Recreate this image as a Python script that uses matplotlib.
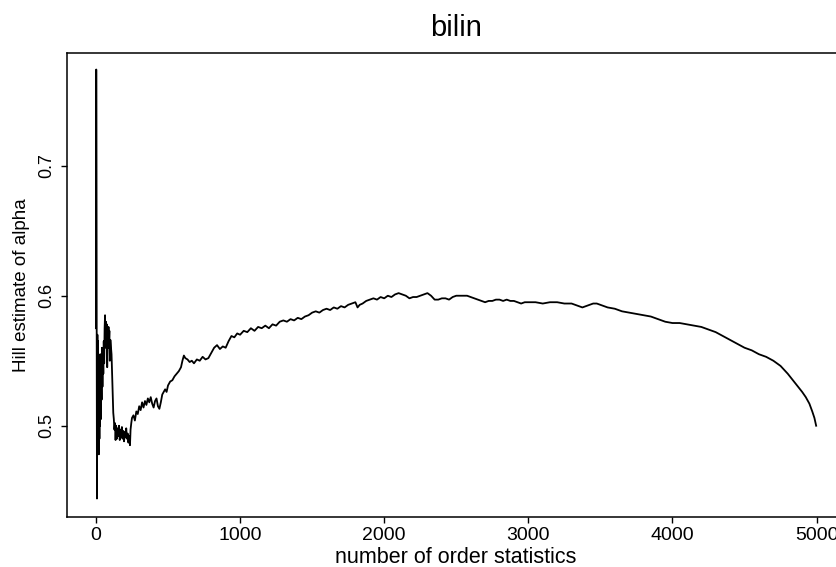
import matplotlib.pyplot as plt
import numpy as np

plt.rcParams['font.family'] = ['Liberation Sans', 'DejaVu Sans']

# number of order statistics k and Hill estimate of alpha
k = [1, 2, 3, 4, 5, 6, 7, 8, 9, 10, 12, 14, 16, 18, 20, 22, 24, 26, 28, 30,
     33, 36, 39, 42, 45, 48, 51, 54, 57, 60, 63, 66, 69, 72, 75, 78, 81, 84,
     87, 90, 93, 96, 100, 104, 108, 112, 116, 120, 124, 128, 132, 136, 140,
     145, 150, 155, 160, 165, 170, 175, 180, 185, 190, 195, 200, 205, 210,
     215, 220, 225, 230, 236, 240, 245,
     250, 260, 270, 280, 290, 300, 310, 320, 330, 340, 350, 360, 370, 380,
     390, 400, 410, 420, 430, 440, 450, 460, 470, 480, 490, 500, 515, 530,
     545, 560, 575, 590, 600, 610, 620, 635, 650, 665, 680, 700, 720, 740,
     760, 780, 800, 820, 840, 860, 880, 900, 920, 940, 960, 980, 1000,
     1025, 1050, 1075, 1100, 1125, 1150, 1175, 1200, 1225, 1250, 1275, 1300,
     1325, 1350, 1375, 1400, 1425, 1450, 1475, 1500, 1525, 1550, 1575, 1600,
     1625, 1650, 1675, 1700, 1725, 1750, 1775, 1800, 1815, 1830, 1850, 1875,
     1900, 1925, 1950, 1975, 2000, 2025, 2050, 2075, 2100, 2125, 2150, 2175,
     2200, 2225, 2250, 2275, 2300, 2325, 2350, 2375, 2400, 2425, 2450, 2475,
     2500, 2525, 2550, 2575, 2600, 2625, 2650, 2675, 2700, 2725, 2750, 2775,
     2800, 2825, 2850, 2875, 2900, 2925, 2950, 2975, 3000, 3050, 3100, 3150,
     3200, 3250, 3300, 3350, 3375, 3400, 3450, 3475, 3500, 3550, 3600, 3650,
     3700, 3750, 3800, 3850, 3900, 3950, 4000, 4050, 4100, 4150, 4200, 4250,
     4300, 4350, 4400, 4450, 4500, 4550, 4600, 4650, 4700, 4750, 4800, 4850,
     4900, 4925, 4950, 4970, 4985, 4997]

alpha = [0.575, 0.774, 0.700, 0.610, 0.575, 0.520, 0.444, 0.500, 0.560, 0.570,
         0.520, 0.565, 0.495, 0.548, 0.478, 0.530, 0.490, 0.545, 0.500, 0.555,
         0.505, 0.545, 0.520, 0.560, 0.530, 0.555, 0.540, 0.565, 0.548, 0.575,
         0.585, 0.560, 0.580, 0.565, 0.578, 0.545, 0.572, 0.560, 0.576, 0.565,
         0.573, 0.550, 0.566, 0.560, 0.555, 0.540, 0.525, 0.510, 0.505, 0.497,
         0.502, 0.489, 0.500, 0.490, 0.498, 0.492, 0.500, 0.489, 0.497, 0.491,
         0.499, 0.490, 0.496, 0.488, 0.495, 0.491, 0.498, 0.490, 0.494, 0.487,
         0.492, 0.485, 0.497, 0.502,
         0.506, 0.508, 0.504, 0.511, 0.509, 0.515, 0.512, 0.518, 0.514, 0.519,
         0.516, 0.521, 0.518, 0.522, 0.517, 0.514, 0.519, 0.521, 0.515, 0.513,
         0.518, 0.524, 0.526, 0.528, 0.526, 0.531, 0.534, 0.535, 0.538, 0.540,
         0.542, 0.545, 0.550, 0.554, 0.552, 0.551, 0.549, 0.550, 0.548, 0.551,
         0.550, 0.553, 0.551, 0.552, 0.556, 0.560, 0.562, 0.559, 0.561, 0.560,
         0.565, 0.569, 0.568, 0.571, 0.570, 0.573, 0.572, 0.575, 0.573, 0.576,
         0.575, 0.577, 0.575, 0.578, 0.577, 0.580, 0.581, 0.580, 0.582, 0.581,
         0.583, 0.582, 0.584, 0.585, 0.587, 0.588, 0.587, 0.589, 0.590, 0.589,
         0.591, 0.590, 0.592, 0.591, 0.593, 0.594, 0.595, 0.591, 0.593, 0.594,
         0.596, 0.597, 0.598, 0.597, 0.599, 0.598, 0.600, 0.599, 0.601, 0.602,
         0.601, 0.600, 0.598, 0.599, 0.599, 0.600, 0.601, 0.602, 0.600, 0.597,
         0.597, 0.598, 0.598, 0.597, 0.599, 0.600, 0.600, 0.600, 0.600, 0.599,
         0.598, 0.597, 0.596, 0.595, 0.596, 0.596, 0.597, 0.597, 0.596, 0.597,
         0.596, 0.596, 0.595, 0.594, 0.595, 0.595, 0.595, 0.594, 0.595, 0.595,
         0.594, 0.594, 0.592, 0.591, 0.592, 0.594, 0.594, 0.593, 0.591, 0.590,
         0.588, 0.587, 0.586, 0.585, 0.584, 0.582, 0.580, 0.579, 0.579, 0.578,
         0.577, 0.576, 0.574, 0.572, 0.569, 0.566, 0.563, 0.560, 0.558, 0.555,
         0.553, 0.550, 0.546, 0.540, 0.533, 0.526, 0.522, 0.517, 0.511, 0.506,
         0.500]

x_ticks = [0, 1000, 2000, 3000, 4000, 5000]
y_ticks = [0.5, 0.6, 0.7]

fig = plt.figure(figsize=(8.37, 5.67), dpi=100)
# axes run past the right edge of the figure, as in the cropped scan
ax = fig.add_axes([0.0797, 0.0882, 0.930, 0.8183])

ax.plot(k, alpha, color='black', lw=1.3)

ax.set_xlim(-203, 5198)
ax.set_ylim(0.4298, 0.7867)
ax.set_xticks(x_ticks)
ax.set_xticklabels([str(t) for t in x_ticks])
ax.set_yticks(y_ticks)
ax.set_yticklabels([str(t) for t in y_ticks], rotation=90, va='center')

ax.tick_params(direction='out', length=4.5, width=1.0, pad=3)
ax.tick_params(axis='x', labelsize=14)
ax.tick_params(axis='y', labelsize=13, pad=4)
for s in ax.spines.values():
    s.set_linewidth(1.1)

ax.set_xlabel('number of order statistics', fontsize=15.5, labelpad=2)
ax.set_ylabel('Hill estimate of alpha', fontsize=13.5, labelpad=6)
ax.set_title('bilin', fontsize=21, pad=12)

plt.savefig('out.png', dpi=100)
